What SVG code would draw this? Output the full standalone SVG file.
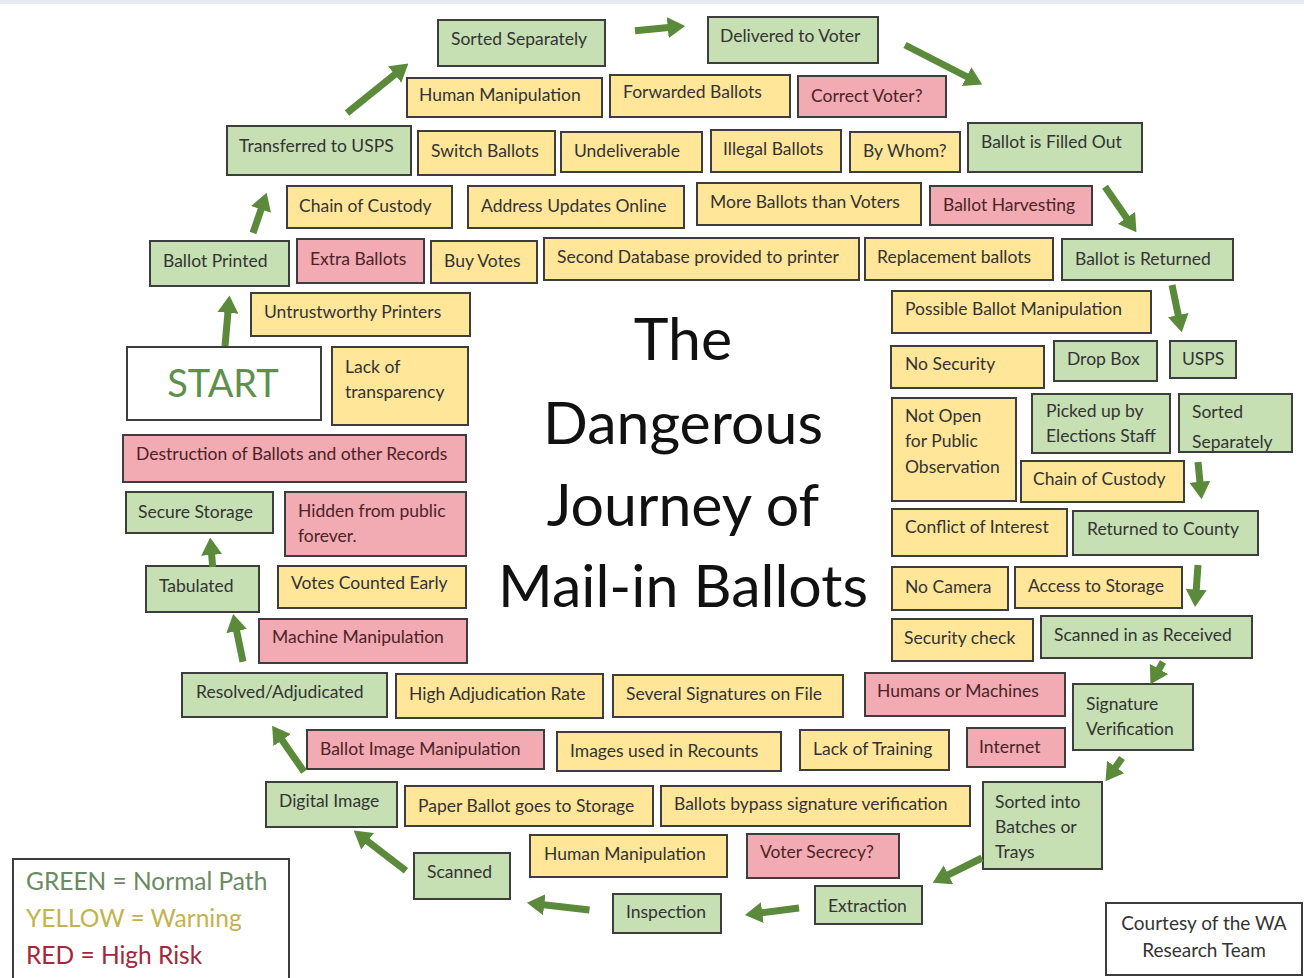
<svg xmlns="http://www.w3.org/2000/svg" width="1304" height="978" viewBox="0 0 1304 978">
<style>
rect.b{stroke:#3d3d3d;stroke-width:2}
rect.g{fill:#c6e0b4}
rect.y{fill:#ffe699}
rect.r{fill:#f2abb2}
rect.w{fill:#ffffff}
text{font-family:Lato,"Open Sans","Liberation Sans",sans-serif}
text.t{font-size:17.5px;fill:#333333}
text.tr{font-size:17.5px;fill:#4a2328}
text.title{font-size:59px;fill:#111111;text-anchor:middle}
.arr line{stroke:#5a8a3a;stroke-width:7;marker-end:url(#ah)}
</style>
<defs>
<marker id="ah" viewBox="0 0 10 12" refX="0.5" refY="6" markerWidth="2.5" markerHeight="3" orient="auto" markerUnits="strokeWidth">
<path d="M0,0 L10,6 L0,12 z" fill="#5a8a3a"/>
</marker>
<clipPath id="clipSS"><rect x="1179" y="394" width="113" height="57"/></clipPath>
</defs>
<rect x="0" y="0" width="1304" height="978" fill="#ffffff"/>
<rect x="0" y="0" width="1304" height="4" fill="#e8eaef"/>

<g id="title">
<text class="title" x="683" y="360">The</text>
<text class="title" x="683" y="444">Dangerous</text>
<text class="title" x="683" y="526">Journey of</text>
<text class="title" x="683" y="607">Mail-in Ballots</text>
</g>

<g id="n-sorted-separately-top"><rect class="b g" x="438" y="20" width="167" height="46"/><text class="t" x="451" y="45">Sorted Separately</text></g>
<g id="n-delivered"><rect class="b g" x="708" y="17" width="170" height="46"/><text class="t" x="720" y="42">Delivered to Voter</text></g>
<g id="n-human-manip-top"><rect class="b y" x="407" y="78" width="195" height="39"/><text class="t" x="419" y="101">Human Manipulation</text></g>
<g id="n-forwarded"><rect class="b y" x="610" y="75" width="180" height="42"/><text class="t" x="623" y="98">Forwarded Ballots</text></g>
<g id="n-correct-voter"><rect class="b r" x="798" y="76" width="148" height="41"/><text class="tr" x="811" y="102">Correct Voter?</text></g>
<g id="n-transferred"><rect class="b g" x="227" y="126" width="184" height="49"/><text class="t" x="239" y="152">Transferred to USPS</text></g>
<g id="n-switch"><rect class="b y" x="418" y="131" width="137" height="44"/><text class="t" x="431" y="157">Switch Ballots</text></g>
<g id="n-undeliverable"><rect class="b y" x="561" y="132" width="141" height="40"/><text class="t" x="574" y="157">Undeliverable</text></g>
<g id="n-illegal"><rect class="b y" x="711" y="130" width="130" height="42"/><text class="t" x="723" y="155">Illegal Ballots</text></g>
<g id="n-by-whom"><rect class="b y" x="850" y="132" width="110" height="40"/><text class="t" x="863" y="157">By Whom?</text></g>
<g id="n-filled-out"><rect class="b g" x="968" y="123" width="174" height="49"/><text class="t" x="981" y="148">Ballot is Filled Out</text></g>
<g id="n-chain-top"><rect class="b y" x="287" y="186" width="165" height="42"/><text class="t" x="299" y="212">Chain of Custody</text></g>
<g id="n-address"><rect class="b y" x="468" y="186" width="216" height="42"/><text class="t" x="481" y="212">Address Updates Online</text></g>
<g id="n-more-ballots"><rect class="b y" x="697" y="183" width="224" height="42"/><text class="t" x="710" y="208">More Ballots than Voters</text></g>
<g id="n-harvesting"><rect class="b r" x="930" y="186" width="162" height="39"/><text class="tr" x="943" y="211">Ballot Harvesting</text></g>
<g id="n-ballot-printed"><rect class="b g" x="150" y="241" width="139" height="45"/><text class="t" x="163" y="267">Ballot Printed</text></g>
<g id="n-extra"><rect class="b r" x="297" y="239" width="127" height="44"/><text class="tr" x="310" y="265">Extra Ballots</text></g>
<g id="n-buy"><rect class="b y" x="431" y="241" width="106" height="42"/><text class="t" x="444" y="267">Buy Votes</text></g>
<g id="n-second-db"><rect class="b y" x="544" y="238" width="315" height="42"/><text class="t" x="557" y="263">Second Database provided to printer</text></g>
<g id="n-replacement"><rect class="b y" x="865" y="238" width="188" height="42"/><text class="t" x="877" y="263">Replacement ballots</text></g>
<g id="n-returned"><rect class="b g" x="1062" y="239" width="171" height="41"/><text class="t" x="1075" y="265">Ballot is Returned</text></g>
<g id="n-untrustworthy"><rect class="b y" x="251" y="293" width="219" height="43"/><text class="t" x="264" y="318">Untrustworthy Printers</text></g>
<g id="n-possible"><rect class="b y" x="892" y="291" width="259" height="42"/><text class="t" x="905" y="315">Possible Ballot Manipulation</text></g>
<g id="n-start"><rect class="b w" x="127" y="347" width="194" height="73"/><text x="223" y="397" font-size="38" fill="#5e8f4c" text-anchor="middle">START</text></g>
<g id="n-lack"><rect class="b y" x="332" y="347" width="136" height="78"/><text class="t" x="345" y="373">Lack of</text><text class="t" x="345" y="398">transparency</text></g>
<g id="n-no-security"><rect class="b y" x="891" y="346" width="153" height="42"/><text class="t" x="905" y="370">No Security</text></g>
<g id="n-drop-box"><rect class="b g" x="1054" y="341" width="103" height="40"/><text class="t" x="1067" y="365">Drop Box</text></g>
<g id="n-usps"><rect class="b g" x="1170" y="341" width="66" height="37"/><text class="t" x="1182" y="365">USPS</text></g>
<g id="n-not-open"><rect class="b y" x="892" y="398" width="124" height="103"/><text class="t" x="905" y="422">Not Open</text><text class="t" x="905" y="447">for Public</text><text class="t" x="905" y="473">Observation</text></g>
<g id="n-picked-up"><rect class="b g" x="1032" y="394" width="138" height="59"/><text class="t" x="1046" y="417">Picked up by</text><text class="t" x="1046" y="442">Elections Staff</text></g>
<g id="n-sorted-separately-right"><rect class="b g" x="1179" y="394" width="113" height="58"/><g clip-path="url(#clipSS)"><text class="t" x="1192" y="418">Sorted</text><text class="t" x="1192" y="448">Separately</text></g></g>
<g id="n-chain-right"><rect class="b y" x="1021" y="461" width="163" height="41"/><text class="t" x="1033" y="485">Chain of Custody</text></g>
<g id="n-destruction"><rect class="b r" x="123" y="435" width="343" height="47"/><text class="tr" x="136" y="460">Destruction of Ballots and other Records</text></g>
<g id="n-secure-storage"><rect class="b g" x="126" y="492" width="147" height="41"/><text class="t" x="138" y="518">Secure Storage</text></g>
<g id="n-hidden"><rect class="b r" x="285" y="492" width="181" height="64"/><text class="tr" x="298" y="517">Hidden from public</text><text class="tr" x="298" y="542">forever.</text></g>
<g id="n-conflict"><rect class="b y" x="892" y="509" width="175" height="47"/><text class="t" x="905" y="533">Conflict of Interest</text></g>
<g id="n-returned-county"><rect class="b g" x="1073" y="511" width="185" height="44"/><text class="t" x="1087" y="535">Returned to County</text></g>
<g id="n-tabulated"><rect class="b g" x="146" y="566" width="113" height="46"/><text class="t" x="159" y="592">Tabulated</text></g>
<g id="n-votes-early"><rect class="b y" x="278" y="566" width="188" height="42"/><text class="t" x="291" y="589">Votes Counted Early</text></g>
<g id="n-no-camera"><rect class="b y" x="892" y="567" width="116" height="43"/><text class="t" x="905" y="593">No Camera</text></g>
<g id="n-access"><rect class="b y" x="1015" y="567" width="167" height="41"/><text class="t" x="1028" y="592">Access to Storage</text></g>
<g id="n-machine"><rect class="b r" x="259" y="619" width="208" height="44"/><text class="tr" x="272" y="643">Machine Manipulation</text></g>
<g id="n-security-check"><rect class="b y" x="892" y="619" width="141" height="42"/><text class="t" x="904" y="644">Security check</text></g>
<g id="n-scanned-in"><rect class="b g" x="1041" y="616" width="211" height="42"/><text class="t" x="1054" y="641">Scanned in as Received</text></g>
<g id="n-resolved"><rect class="b g" x="182" y="673" width="205" height="44"/><text class="t" x="196" y="698">Resolved/Adjudicated</text></g>
<g id="n-high-adj"><rect class="b y" x="396" y="674" width="207" height="44"/><text class="t" x="409" y="700">High Adjudication Rate</text></g>
<g id="n-several"><rect class="b y" x="613" y="675" width="230" height="42"/><text class="t" x="626" y="700">Several Signatures on File</text></g>
<g id="n-humans-machines"><rect class="b r" x="865" y="673" width="200" height="43"/><text class="tr" x="877" y="697">Humans or Machines</text></g>
<g id="n-signature"><rect class="b g" x="1073" y="684" width="120" height="66"/><text class="t" x="1086" y="710">Signature</text><text class="t" x="1086" y="735">Verification</text></g>
<g id="n-ballot-image"><rect class="b r" x="307" y="730" width="237" height="39"/><text class="tr" x="320" y="755">Ballot Image Manipulation</text></g>
<g id="n-images-recounts"><rect class="b y" x="557" y="732" width="224" height="39"/><text class="t" x="570" y="757">Images used in Recounts</text></g>
<g id="n-lack-training"><rect class="b y" x="800" y="730" width="149" height="40"/><text class="t" x="813" y="755">Lack of Training</text></g>
<g id="n-internet"><rect class="b r" x="967" y="728" width="98" height="39"/><text class="tr" x="979" y="753">Internet</text></g>
<g id="n-digital"><rect class="b g" x="266" y="782" width="131" height="45"/><text class="t" x="279" y="807">Digital Image</text></g>
<g id="n-paper"><rect class="b y" x="405" y="786" width="248" height="40"/><text class="t" x="418" y="812">Paper Ballot goes to Storage</text></g>
<g id="n-bypass"><rect class="b y" x="661" y="786" width="309" height="40"/><text class="t" x="674" y="810">Ballots bypass signature verification</text></g>
<g id="n-sorted-batches"><rect class="b g" x="983" y="782" width="119" height="87"/><text class="t" x="995" y="808">Sorted into</text><text class="t" x="995" y="833">Batches or</text><text class="t" x="995" y="858">Trays</text></g>
<g id="n-scanned"><rect class="b g" x="414" y="853" width="96" height="46"/><text class="t" x="427" y="878">Scanned</text></g>
<g id="n-human-manip-bottom"><rect class="b y" x="530" y="835" width="197" height="42"/><text class="t" x="544" y="860">Human Manipulation</text></g>
<g id="n-voter-secrecy"><rect class="b r" x="747" y="834" width="152" height="44"/><text class="tr" x="760" y="858">Voter Secrecy?</text></g>
<g id="n-inspection"><rect class="b g" x="613" y="894" width="108" height="39"/><text class="t" x="626" y="918">Inspection</text></g>
<g id="n-extraction"><rect class="b g" x="815" y="886" width="107" height="38"/><text class="t" x="828" y="912">Extraction</text></g>

<g id="legend"><rect class="b w" x="13" y="859" width="276" height="125"/>
<text x="26" y="890" font-size="24.5" fill="#6b8a62">GREEN = Normal Path</text>
<text x="26" y="927" font-size="24.5" fill="#c4b24e">YELLOW = Warning</text>
<text x="26" y="964" font-size="24.5" fill="#a3283c">RED = High Risk</text></g>
<g id="courtesy"><rect class="b w" x="1106" y="903" width="196" height="72"/>
<text x="1204" y="930" font-size="19" fill="#333333" text-anchor="middle">Courtesy of the WA</text>
<text x="1204" y="957" font-size="19" fill="#333333" text-anchor="middle">Research Team</text></g>

<g id="connectors" class="arr">
<line x1="225" y1="346" x2="228" y2="312"/>
<line x1="253" y1="233" x2="261.3" y2="208.6"/>
<line x1="347" y1="113" x2="395.4" y2="74"/>
<line x1="635" y1="30.7" x2="668.6" y2="27.6"/>
<line x1="905" y1="45" x2="967.4" y2="77"/>
<line x1="1105" y1="186.7" x2="1127" y2="218.6"/>
<line x1="1172" y1="285" x2="1178.4" y2="315.9"/>
<line x1="1198" y1="462" x2="1200" y2="482.6"/>
<line x1="1198" y1="565" x2="1196.2" y2="590.5"/>
<line x1="1163" y1="662" x2="1158.6" y2="669.8"/>
<line x1="1122" y1="758" x2="1115.1" y2="767.7"/>
<line x1="982" y1="858" x2="947.6" y2="875.2"/>
<line x1="799" y1="908" x2="761.4" y2="912.8"/>
<line x1="589.5" y1="910" x2="543.4" y2="904.7"/>
<line x1="406" y1="870.7" x2="366.9" y2="840.7"/>
<line x1="304" y1="771.7" x2="281.6" y2="739.4"/>
<line x1="243" y1="661.7" x2="236.5" y2="630.2"/>
<line x1="212.7" y1="567" x2="211.6" y2="554.1"/>
</g>
</svg>
